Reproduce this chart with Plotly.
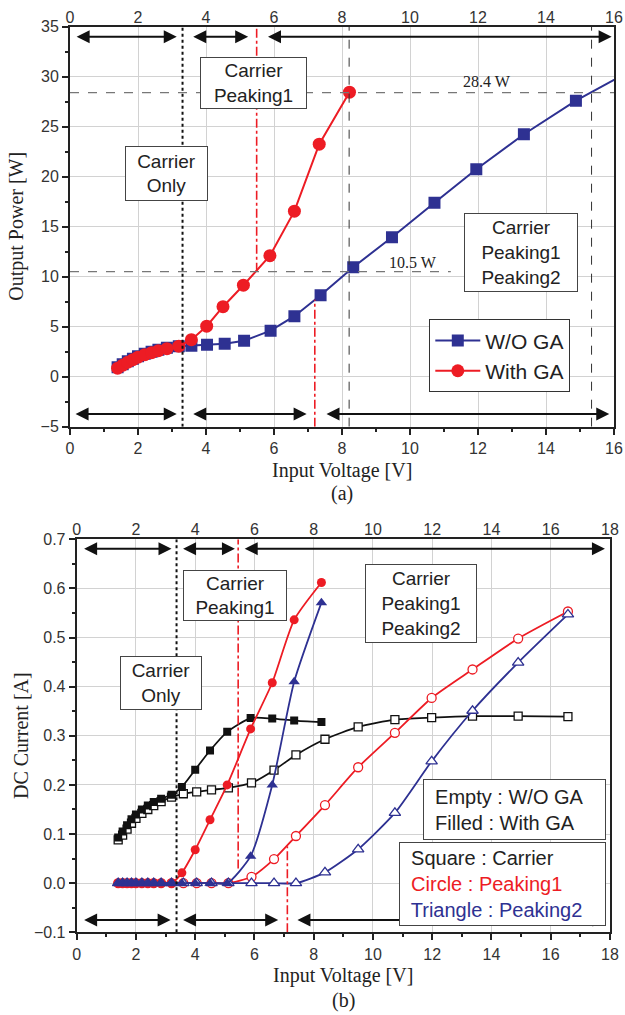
import plotly.graph_objects as go

W, H = 625, 1015

# ---------------- (a) Output power vs input voltage ----------------
v_wo_a = [1.4, 1.55, 1.7, 1.85, 2.0, 2.2, 2.4, 2.6, 2.85, 3.2, 3.57, 4.03, 4.55, 5.12,
          5.9, 6.6, 7.37, 8.33, 9.47, 10.72, 11.95, 13.35, 14.88, 16.55]
p_wo_a = [0.95, 1.25, 1.55, 1.8, 2.05, 2.3, 2.5, 2.7, 2.9, 3.05, 3.1, 3.2, 3.3, 3.6,
          4.6, 6.05, 8.15, 10.95, 13.95, 17.4, 20.75, 24.25, 27.6, 30.7]
v_ga_a = [1.4, 1.55, 1.7, 1.85, 2.0, 2.2, 2.4, 2.6, 2.85, 3.2, 3.57, 4.02, 4.5, 5.1,
          5.88, 6.6, 7.33, 8.22]
p_ga_a = [0.85, 1.15, 1.45, 1.7, 1.95, 2.2, 2.4, 2.6, 2.8, 3.05, 3.7, 5.05, 7.0, 9.15,
          12.1, 16.55, 23.25, 28.45]

# ---------------- (b) DC current vs input voltage ----------------
v_ga_b = [1.4, 1.55, 1.7, 1.85, 2.0, 2.2, 2.4, 2.6, 2.85, 3.2, 3.55, 4.0, 4.5, 5.08,
          5.87, 6.6, 7.34, 8.26]
i_car_ga = [0.093, 0.105, 0.118, 0.13, 0.14, 0.15, 0.158, 0.165, 0.172, 0.18, 0.196,
            0.231, 0.27, 0.308, 0.336, 0.335, 0.331, 0.328]
i_p1_ga = [0, 0, 0, 0, 0, 0, 0, 0, 0, 0, 0.021, 0.068, 0.129, 0.2, 0.314, 0.408,
           0.536, 0.612]
i_p2_ga = [0, 0, 0, 0, 0, 0, 0, 0, 0, 0, 0, 0, 0, 0, 0.055, 0.2, 0.41, 0.571]

v_wo_b = [1.4, 1.55, 1.7, 1.85, 2.0, 2.2, 2.4, 2.6, 2.85, 3.2, 3.6, 4.05, 4.55, 5.12,
          5.9, 6.66, 7.4, 8.38, 9.5, 10.74, 11.98, 13.36, 14.9, 16.58]
i_car_wo = [0.088, 0.098, 0.11, 0.122, 0.132, 0.142, 0.15, 0.158, 0.166, 0.175, 0.182,
            0.186, 0.19, 0.194, 0.204, 0.23, 0.261, 0.293, 0.318, 0.333, 0.337, 0.34,
            0.34, 0.339]
i_p1_wo = [0, 0, 0, 0, 0, 0, 0, 0, 0, 0, 0, 0, 0, 0, 0.013, 0.049, 0.096, 0.159,
           0.236, 0.306, 0.377, 0.435, 0.498, 0.553]
i_p2_wo = [0, 0, 0, 0, 0, 0, 0, 0, 0, 0, 0, 0, 0, 0, 0, 0, 0, 0.022, 0.069, 0.143,
           0.248, 0.351, 0.449, 0.547]

NAVY = "#2E3192"
RED = "#ED1C24"
BLK = "#111111"
SANS = "Liberation Sans, Arial, sans-serif"
SERIF = "Liberation Serif, Times New Roman, serif"


def px(x):
    return x / W


def py(y):
    return 1 - y / H


fig = go.Figure()

# panel (a)
fig.add_trace(go.Scatter(x=v_wo_a, y=p_wo_a, mode="lines+markers", name="W/O GA",
                         line=dict(color=NAVY, width=2),
                         marker=dict(symbol="square", size=12, color=NAVY),
                         xaxis="x", yaxis="y"))
fig.add_trace(go.Scatter(x=v_ga_a, y=p_ga_a, mode="lines+markers", name="With GA",
                         line=dict(color=RED, width=2),
                         marker=dict(symbol="circle", size=13, color=RED),
                         xaxis="x", yaxis="y"))

# panel (b)
bl = dict(shape="spline", smoothing=0.6, width=1.8)
fig.add_trace(go.Scatter(x=v_wo_b, y=i_car_wo, mode="lines+markers", showlegend=False,
                         line=dict(color=BLK, **bl),
                         marker=dict(symbol="square", size=8, color="white",
                                     line=dict(color=BLK, width=1.3)),
                         xaxis="x2", yaxis="y2"))
fig.add_trace(go.Scatter(x=v_ga_b, y=i_car_ga, mode="lines+markers", showlegend=False,
                         line=dict(color=BLK, **bl),
                         marker=dict(symbol="square", size=8, color=BLK),
                         xaxis="x2", yaxis="y2"))
fig.add_trace(go.Scatter(x=v_wo_b, y=i_p1_wo, mode="lines+markers", showlegend=False,
                         line=dict(color=RED, **bl),
                         marker=dict(symbol="circle", size=9, color="white",
                                     line=dict(color=RED, width=1.3)),
                         xaxis="x2", yaxis="y2"))
fig.add_trace(go.Scatter(x=v_ga_b, y=i_p1_ga, mode="lines+markers", showlegend=False,
                         line=dict(color=RED, **bl),
                         marker=dict(symbol="circle", size=9, color=RED),
                         xaxis="x2", yaxis="y2"))
fig.add_trace(go.Scatter(x=v_wo_b, y=i_p2_wo, mode="lines+markers", showlegend=False,
                         line=dict(color=NAVY, **bl),
                         marker=dict(symbol="triangle-up", size=10, color="white",
                                     line=dict(color=NAVY, width=1.3)),
                         xaxis="x2", yaxis="y2"))
fig.add_trace(go.Scatter(x=v_ga_b, y=i_p2_ga, mode="lines+markers", showlegend=False,
                         line=dict(color=NAVY, **bl),
                         marker=dict(symbol="triangle-up", size=10, color=NAVY),
                         xaxis="x2", yaxis="y2"))

# dummy traces for top axes
fig.add_trace(go.Scatter(x=[0], y=[0], mode="markers", opacity=0, showlegend=False,
                         hoverinfo="skip", xaxis="x3", yaxis="y"))
fig.add_trace(go.Scatter(x=[0], y=[0], mode="markers", opacity=0, showlegend=False,
                         hoverinfo="skip", xaxis="x4", yaxis="y2"))

tickfont = dict(family=SANS, size=16, color="#333")
common = dict(showline=True, linecolor="#222", linewidth=2, mirror=True,
              ticks="outside", ticklen=6, tickwidth=1.5, tickcolor="#222",
              showgrid=True, gridcolor="#d2d2d2", gridwidth=1, zeroline=False,
              tickfont=tickfont, automargin=False)

xa_dom = [px(70), px(614)]
ya_dom = [py(426.7), py(26.7)]
xb_dom = [px(76.7), px(610)]
yb_dom = [py(932.3), py(539.3)]

fig.update_layout(
    width=W, height=H,
    margin=dict(l=0, r=0, t=0, b=0, autoexpand=False),
    paper_bgcolor="white", plot_bgcolor="white",
    xaxis=dict(domain=xa_dom, range=[0, 16], dtick=2, anchor="y",
               minor=dict(dtick=1, ticks="outside", ticklen=3, tickcolor="#222"), **common),
    yaxis=dict(domain=ya_dom, range=[-5, 35], dtick=5, anchor="x",
               minor=dict(dtick=2.5, ticks="outside", ticklen=3, tickcolor="#222"), **common),
    xaxis3=dict(overlaying="x", side="top", anchor="y", range=[0, 16], dtick=2,
                showgrid=False, zeroline=False, ticks="", tickfont=tickfont, showline=False,
                automargin=False),
    xaxis2=dict(domain=xb_dom, range=[0, 18], dtick=2, anchor="y2",
                minor=dict(dtick=1, ticks="outside", ticklen=3, tickcolor="#222"), **common),
    yaxis2=dict(domain=yb_dom, range=[-0.1, 0.7], dtick=0.1, tickformat=".1f", anchor="x2",
                minor=dict(dtick=0.05, ticks="outside", ticklen=3, tickcolor="#222"), **common),
    xaxis4=dict(overlaying="x2", side="top", anchor="y2", range=[0, 18], dtick=2,
                showgrid=False, zeroline=False, ticks="", tickfont=tickfont, showline=False,
                automargin=False),
    legend=dict(x=px(429.3), y=py(319.3), xanchor="left", yanchor="top",
                bgcolor="white", bordercolor="#333", borderwidth=1,
                font=dict(family=SANS, size=21, color="#222"),
                itemwidth=45, tracegroupgap=0),
    showlegend=True,
)

shapes = []


def vline(xr, yr, x, y0, y1, color, dash, width):
    shapes.append(dict(type="line", xref=xr, yref=yr, x0=x, x1=x, y0=y0, y1=y1,
                       line=dict(color=color, dash=dash, width=width)))


def hline(xr, yr, y, x0, x1, color, dash, width):
    shapes.append(dict(type="line", xref=xr, yref=yr, x0=x0, x1=x1, y0=y, y1=y,
                       line=dict(color=color, dash=dash, width=width)))


# panel (a) guides
vline("x", "y", 3.31, -5, 35, "#111", "dot", 2)
vline("x", "y", 5.49, 10.5, 35, RED, "dashdot", 1.6)
vline("x", "y", 7.2, -5, 7.7, RED, "dashdot", 1.6)
vline("x", "y", 8.21, -5, 35, "#333", "dash", 1)
vline("x", "y", 15.34, -5, 35, "#333", "dash", 1)
hline("x", "y", 28.4, 0, 16, "#777", "dash", 1.2)
hline("x", "y", 10.5, 0, 11.2, "#777", "dash", 1.2)
# panel (b) guides
vline("x2", "y2", 3.37, -0.1, 0.7, "#111", "dot", 2)
vline("x2", "y2", 5.45, 0.03, 0.7, RED, "dashdot", 1.6)
vline("x2", "y2", 7.11, -0.1, 0.075, RED, "dashdot", 1.6)
fig.update_layout(shapes=shapes)

ann = []


def arrow(xr, yr, y, x0, x1):
    ann.append(dict(xref=xr, yref=yr, axref=xr, ayref=yr, x=x1, y=y, ax=x0, ay=y,
                    text="", showarrow=True, arrowside="end+start", arrowhead=2,
                    arrowsize=1.3, arrowwidth=2, arrowcolor="#111", standoff=0,
                    startstandoff=0))


for a0, a1 in [(0.15, 3.14), (3.58, 5.24), (5.78, 15.93)]:
    arrow("x", "y", 34.0, a0, a1)
for a0, a1 in [(0.12, 3.14), (3.58, 6.96), (7.5, 15.86)]:
    arrow("x", "y", -3.73, a0, a1)
for a0, a1 in [(0.2, 3.2), (3.54, 5.34), (5.62, 17.83)]:
    arrow("x2", "y2", 0.681, a0, a1)
for a0, a1 in [(0.2, 3.17), (3.54, 6.8), (7.4, 17.85)]:
    arrow("x2", "y2", -0.075, a0, a1)


def box(xr, yr, x, y, text, w, h, align="center", size=19):
    ann.append(dict(xref=xr, yref=yr, x=x, y=y, text=text, showarrow=False,
                    xanchor="center", yanchor="middle",
                    width=w, height=h, align=align, valign="middle",
                    bgcolor="white", bordercolor="#444", borderwidth=1, borderpad=0,
                    font=dict(family=SANS, size=size, color="#222")))


box("x", "y", 5.41, 29.35, "Carrier<br>Peaking1", 105, 50)
box("x", "y", 2.835, 20.35, "Carrier<br>Only", 81, 53)
box("x", "y", 13.27, 12.37, "Carrier<br>Peaking1<br>Peaking2", 112, 77)

box("x2", "y2", 5.345, 0.5865, "Carrier<br>Peaking1", 102, 49)
box("x2", "y2", 2.84, 0.407, "Carrier<br>Only", 80, 52)
box("x2", "y2", 11.625, 0.569, "Carrier<br>Peaking1<br>Peaking2", 110, 77)
box("x2", "y2", 14.77, 0.151, "  Empty : W/O GA<br>  Filled : With GA", 181, 59,
    "left", 20)
box("x2", "y2", 14.37, -0.0025,
    "  Square : Carrier<br><span style='color:%s'>  Circle : Peaking1</span><br>"
    "<span style='color:%s'>  Triangle : Peaking2</span>" % (RED, NAVY), 205, 82,
    "left", 20)

# value labels
serif16 = dict(family=SERIF, size=16, color="#222")
ann.append(dict(xref="x", yref="y", x=12.25, y=29.5, text="28.4 W", showarrow=False,
                xanchor="center", yanchor="middle", font=serif16))
ann.append(dict(xref="x", yref="y", x=10.09, y=11.4, text="10.5 W", showarrow=False,
                xanchor="center", yanchor="middle", font=serif16))

# axis titles and captions
serif20 = dict(family=SERIF, size=20, color="#222")


def label(x, y, text, angle=0):
    ann.append(dict(xref="paper", yref="paper", x=px(x), y=py(y), text=text,
                    showarrow=False, xanchor="center", yanchor="middle",
                    font=serif20, textangle=angle))


label(342, 471, "Input Voltage [V]")
label(342, 493, "(a)")
label(17, 226.7, "Output Power [W]", -90)
label(343, 975, "Input Voltage [V]")
label(343, 1000, "(b)")
label(21, 736, "DC Current [A]", -90)

fig.update_layout(annotations=ann)

fig.write_html("out.html")
